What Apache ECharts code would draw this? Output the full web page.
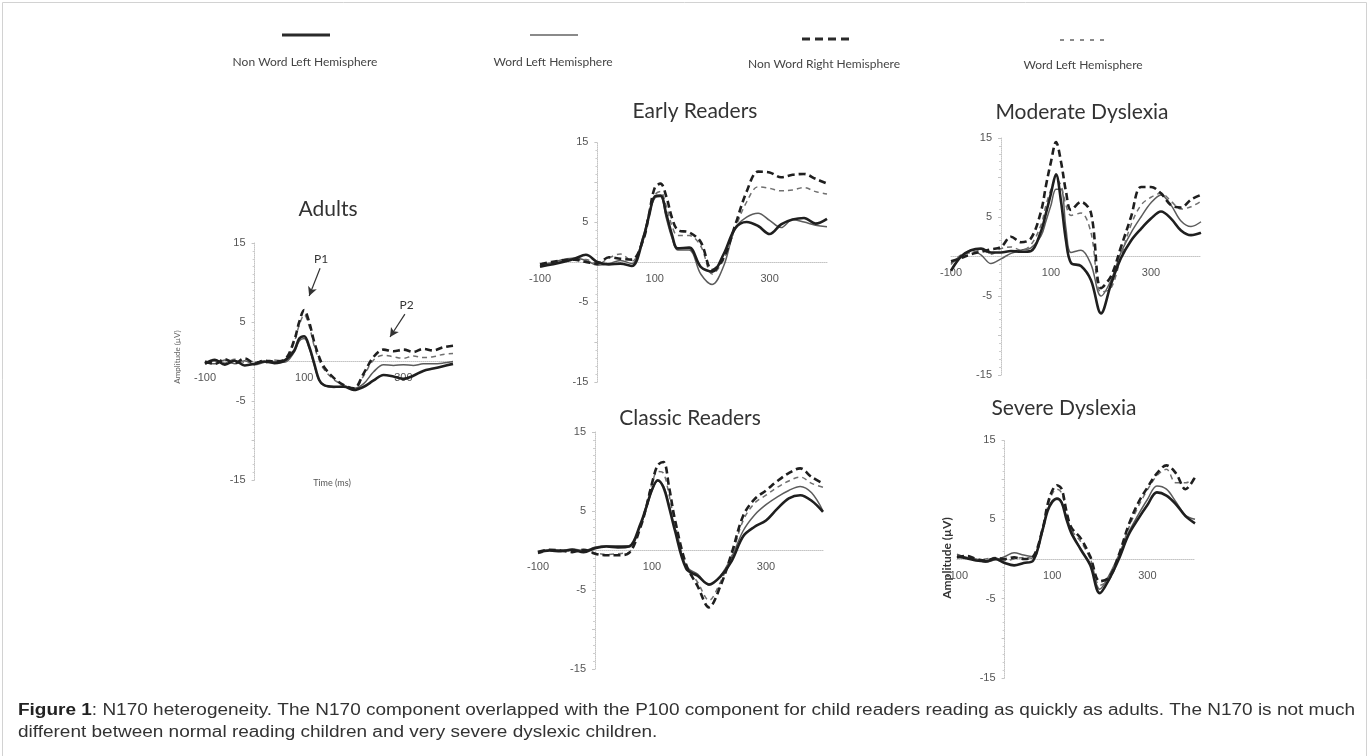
<!DOCTYPE html>
<html><head><meta charset="utf-8">
<script src="https://cdn.jsdelivr.net/npm/echarts@6/dist/echarts.min.js"></script>
<style>html,body{margin:0;padding:0;background:#fff}#c{width:1370px;height:756px}</style>
</head><body><div id="c"></div>
<script>
// ---------------- DATA ----------------
const times = [-100,-80,-60,-40,-20,0,20,40,60,80,90,100,110,120,130,140,160,180,200,220,240,260,280,300,320,340,360,380,400];
const legendLabels = ['Non Word Left Hemisphere','Word Left Hemisphere','Non Word Right Hemisphere','Word Left Hemisphere'];
const panelTitles = ['Adults','Early Readers','Moderate Dyslexia','Classic Readers','Severe Dyslexia'];
const xTickLabels = [-100,100,300];
const yTickLabels = [15,5,-5,-15];
const captionBold = 'Figure 1';
const captionLine1 = ': N170 heterogeneity. The N170 component overlapped with the P100 component for child readers reading as quickly as adults. The N170 is not much';
const captionLine2 = 'different between normal reading children and very severe dyslexic children.';
const adultsAxisName = 'Amplitude (\u00b5V)';
const adultsTimeName = 'Time (ms)';
const severeAxisName = 'Amplitude (\u00b5V)';
const annotations = [{name:'P1', from:[132,11.8], to:[110,8.3]},{name:'P2', from:[303,6.0], to:[273,3.1]}];

// Adults
const adultsNWL = [-0.3,0.2,-0.4,0.1,-0.5,-0.3,0.0,-0.2,0.1, 1.4,2.9,3.2,1.9,-0.2,-2.3,-3.0, -3.2,-3.2,-3.6,-3.2,-2.4,-1.7,-1.9,-2.2,-1.8,-1.2,-0.9,-0.6,-0.3];
const adultsWL  = [-0.1,-0.3,0.2,-0.3,0.1,-0.4,-0.1,0.0,-0.1, 1.2,2.6,2.9,1.7,-0.4,-2.4,-3.0, -3.3,-3.1,-3.4,-2.8,-1.3,-0.4,-0.5,-0.4,-0.5,-0.3,-0.3,-0.2,0.0];
const adultsNWR = [0.0,-0.3,0.3,-0.2,0.4,-0.2,0.1,0.0,0.2, 2.7,5.0,6.5,5.0,2.5,0.6,-0.7, -2.1,-3.0,-3.4,-1.5,0.6,1.5,1.3,1.5,1.2,1.6,1.4,1.8,2.0];
const adultsWR  = [-0.2,0.1,-0.2,0.3,-0.1,0.0,-0.2,0.2,0.0, 2.5,4.6,5.9,4.5,2.0,0.2,-1.0, -2.3,-3.0,-3.5,-1.8,0.2,0.8,0.6,0.4,0.7,0.5,0.6,0.9,1.0];
// Early readers
const earlyNWL = [-0.6,-0.3,0.0,0.4,0.9,0.0,-0.3,-0.2,-0.5, 3.0,5.8,8.2,8.3,6.0,3.4,1.7, 1.8,-0.6,-1.2,1.0,4.2,5.0,4.5,3.5,4.7,5.3,5.5,4.8,5.4];
const earlyWL  = [-0.4,-0.1,0.3,0.5,0.2,-0.4,-0.2,0.2,-0.2, 3.3,6.0,8.0,8.2,5.5,3.0,1.5, 1.5,-1.5,-2.8,-0.5,4.2,5.6,6.1,5.2,4.3,5.3,5.0,4.6,4.4];
const earlyNWR = [-0.3,0.0,0.2,0.3,0.0,-0.2,0.6,0.4,0.3, 2.8,6.0,9.3,9.8,8.2,5.5,4.0, 3.7,2.5,-1.0,0.5,4.6,8.8,11.3,11.2,10.6,10.9,11.0,10.4,9.8];
const earlyWR  = [-0.5,-0.2,0.1,0.2,0.3,-0.3,0.5,1.0,0.1, 3.0,6.0,8.4,8.8,7.0,4.5,3.3, 3.3,2.0,-1.5,0.3,4.2,7.5,9.4,9.2,8.9,9.0,9.3,8.8,8.5];
// Moderate dyslexia
const modNWL = [-1.8,0.0,0.8,1.0,0.5,0.5,0.7,0.6,0.7, 3.2,5.5,8.0,10.4,7.0,2.0,-0.8, -1.2,-3.0,-7.2,-3.5,-0.2,2.0,3.5,4.8,5.7,4.8,3.3,2.7,3.0];
const modWL  = [-0.8,0.0,0.8,0.2,-0.9,-0.3,0.4,0.8,1.1, 2.6,4.5,6.5,8.5,8.5,3.5,0.5, 0.8,-1.0,-5.0,-3.0,0.5,3.0,5.0,6.8,7.8,6.5,4.5,3.8,4.4];
const modNWR = [-0.6,-0.2,0.3,0.6,0.9,1.2,2.5,1.8,2.3, 5.7,9.0,12.0,14.5,12.0,8.2,5.9, 6.9,5.5,-4.0,-2.5,1.2,5.0,8.8,8.8,8.0,6.5,6.2,7.2,7.8];
const modWR  = [-1.0,0.2,0.5,0.8,0.3,1.0,1.2,0.8,1.5, 4.0,6.5,8.5,9.8,9.0,6.5,5.2, 5.5,3.0,-4.5,-4.0,0.0,4.0,6.5,7.5,8.0,7.0,6.0,6.3,7.0];
// Classic readers
const classicNWL = [-0.3,0.0,-0.1,0.1,-0.2,0.3,0.5,0.4,0.5, 3.4,5.5,7.7,8.9,8.0,5.5,2.6, -2.3,-3.2,-4.3,-3.3,-1.3,1.8,3.0,3.8,5.3,6.6,7.0,6.3,4.9];
const classicWL  = [-0.2,0.1,0.0,0.2,0.0,0.4,0.6,0.6,0.6, 3.2,5.3,7.6,8.8,8.2,5.8,2.8, -2.0,-3.0,-4.4,-3.2,-0.8,2.5,4.5,5.8,6.8,7.6,8.1,7.3,5.0];
const classicNWR = [-0.2,0.1,0.0,-0.2,0.1,-0.4,-0.6,-0.6,-0.3, 3.0,5.5,8.5,10.8,11.2,8.0,4.0, -1.8,-4.5,-7.2,-4.5,-0.3,4.4,6.5,7.6,8.8,9.8,10.4,9.3,8.5];
const classicWR  = [-0.4,0.0,0.1,-0.1,0.0,-0.3,-0.5,-0.4,-0.2, 3.2,5.8,8.5,10.0,9.8,7.0,3.5, -2.0,-4.0,-6.3,-4.0,-0.6,3.8,6.0,7.0,8.0,8.8,9.3,8.5,8.0];
// Severe dyslexia
const sevNWL = [0.3,0.1,-0.2,-0.3,0.0,-0.5,-0.8,-0.5,-0.2, 3.7,6.0,7.2,7.6,7.1,5.0,3.3, 1.2,-0.8,-4.3,-2.5,0.0,3.0,5.0,6.8,8.4,8.0,6.9,5.4,4.5];
const sevWL  = [0.6,0.2,0.0,-0.4,-0.1,0.3,0.8,0.5,0.3, 3.9,6.2,7.3,7.7,7.2,5.2,3.5, 1.2,-0.6,-3.8,-2.0,0.5,3.3,5.5,7.5,9.2,8.8,7.2,5.5,5.0];
const sevNWR = [0.2,0.4,0.0,-0.2,0.1,0.0,0.2,0.0,0.3, 3.8,6.8,8.6,9.3,8.8,6.0,4.0, 2.6,0.3,-2.8,-2.3,0.5,4.2,7.0,9.0,10.8,11.8,10.8,8.8,10.3];
const sevWR  = [0.4,0.2,-0.1,0.0,0.2,-0.2,0.0,0.2,0.1, 3.8,6.5,8.2,8.8,8.3,5.8,3.7, 2.2,0.0,-3.3,-2.6,0.2,3.8,6.5,8.7,10.5,11.3,9.6,9.6,10.2];

// ---------------- LAYOUT / STYLE ----------------
const panelData = [
  [adultsNWL, adultsWL, adultsNWR, adultsWR],
  [earlyNWL, earlyWL, earlyNWR, earlyWR],
  [modNWL, modWL, modNWR, modWR],
  [classicNWL, classicWL, classicNWR, classicWR],
  [sevNWL, sevWL, sevNWR, sevWR]
];
const X_MIN = -100, X_MAX = 400, Y_MIN = -15, Y_MAX = 15;
const layouts = [
  {left:205, top:243, width:248, height:237, tx:328,  ty:209},
  {left:540, top:142, width:287, height:240, tx:695,  ty:111},
  {left:951, top:138, width:250, height:237, tx:1082, ty:112},
  {left:538, top:432, width:285, height:237, tx:690,  ty:418},
  {left:957, top:440, width:238, height:238, tx:1064, ty:408}
];
const lineStyles = [
  {color:'#1f1f1f', width:2.6, type:'solid'},
  {color:'#5c5c5c', width:1.5, type:'solid'},
  {color:'#1f1f1f', width:2.6, type:[7,4]},
  {color:'#707070', width:1.5, type:[5,4]}
];
const legendPos = [
  {lx:282, ly:35, tx:305, ty:62},
  {lx:530, ly:35, tx:553, ty:62},
  {lx:802, ly:39, tx:824, ty:64},
  {lx:1060, ly:40, tx:1083, ty:65}
];
const legendLine = [
  {stroke:'#2a2a2a', lineWidth:3, lineDash:null},
  {stroke:'#8a8a8a', lineWidth:2, lineDash:null},
  {stroke:'#2a2a2a', lineWidth:3, lineDash:[8,5]},
  {stroke:'#8a8a8a', lineWidth:2, lineDash:[4,6]}
];
const axisFont = 'Liberation Sans';
const titleFont = 'Lato';

const grids=[], xAxes=[], yAxes=[], series=[];
layouts.forEach((L,i)=>{
  grids.push({left:L.left, top:L.top, width:L.width, height:L.height, containLabel:false});
  // move axes from the grid edge to the zero lines
  const yOff = -L.width * (0 - X_MIN) / (X_MAX - X_MIN);
  const xOff = -L.height * (0 - Y_MIN) / (Y_MAX - Y_MIN);
  xAxes.push({type:'value', gridIndex:i, min:X_MIN, max:X_MAX, interval:100, position:'bottom', offset:xOff,
    axisLine:{show:true, onZero:false, lineStyle:{color:'#c4c4c4', type:'dotted', width:1}},
    axisTick:{show:false}, splitLine:{show:false},
    axisLabel:{formatter:v=>xTickLabels.includes(v)?String(v):'', color:'#555', fontSize:11, fontFamily:axisFont, margin:11}
  });
  yAxes.push({type:'value', gridIndex:i, min:Y_MIN, max:Y_MAX, interval:5, position:'left', offset:yOff,
    axisLine:{show:true, onZero:false, lineStyle:{color:'#c4c4c4', type:'dotted', width:1}},
    axisTick:{show:true, length:3, lineStyle:{color:'#c4c4c4'}},
    minorTick:{show:true, splitNumber:5, length:2, lineStyle:{color:'#cfcfcf'}},
    splitLine:{show:false},
    axisLabel:{formatter:v=>yTickLabels.includes(v)?String(v):'', color:'#555', fontSize:11, fontFamily:axisFont, margin:9}
  });
  panelData[i].forEach((arr,k)=>{
    const s = {type:'line', name:legendLabels[k], xAxisIndex:i, yAxisIndex:i,
      data: times.map((t,j)=>[t, arr[j]]), showSymbol:false, symbol:'none', smooth:0.35,
      lineStyle:Object.assign({}, lineStyles[k]), z: 3 + (k%2===0?1:0), silent:true};
    if(i===0 && k===2){
      s.markLine = {silent:true, symbol:['none','arrow'], symbolSize:[7,9], animation:false,
        lineStyle:{color:'#333', width:1.2, type:'solid'},
        label:{show:true, position:'start', formatter:p=>p.name, color:'#333', fontSize:12, fontFamily:titleFont, distance:3},
        data: annotations.map(a=>[{name:a.name, coord:a.from},{coord:a.to}])
      };
    }
    series.push(s);
  });
});

const graphics = [];
graphics.push({type:'rect', shape:{x:2.5, y:2.5, width:1364, height:770}, style:{fill:null, stroke:'#d2d2d2', lineWidth:1}, silent:true});
layouts.forEach((L,i)=>{
  graphics.push({type:'text', x:L.tx, y:L.ty, style:{text:panelTitles[i], font:'21px '+titleFont, fill:'#333', textAlign:'center', textVerticalAlign:'middle'}});
});
legendLabels.forEach((lab,i)=>{
  const P = legendPos[i], S = legendLine[i];
  graphics.push({type:'line', shape:{x1:P.lx, y1:P.ly, x2:P.lx+48, y2:P.ly}, style:{stroke:S.stroke, lineWidth:S.lineWidth, lineDash:S.lineDash}});
  graphics.push({type:'text', x:P.tx, y:P.ty, style:{text:lab, font:'12px '+titleFont, fill:'#444', textAlign:'center', textVerticalAlign:'middle'}});
});
graphics.push({type:'text', x:177, y:357, rotation:Math.PI/2, style:{text:adultsAxisName, font:'8px '+titleFont, fill:'#666', textAlign:'center', textVerticalAlign:'middle'}});
graphics.push({type:'text', x:332, y:483, style:{text:adultsTimeName, font:'9px '+titleFont, fill:'#555', textAlign:'center', textVerticalAlign:'middle'}});
graphics.push({type:'text', x:947, y:558, rotation:Math.PI/2, style:{text:severeAxisName, font:'bold 12px '+titleFont, fill:'#333', textAlign:'center', textVerticalAlign:'middle'}});

// caption, stretched horizontally to the reference width
const capFont = 'Liberation Sans', capSize = 16;
const mctx = document.createElement('canvas').getContext('2d');
mctx.font = 'bold '+capSize+'px "'+capFont+'"';
const wb = mctx.measureText(captionBold).width;
mctx.font = capSize+'px "'+capFont+'"';
const wr = mctx.measureText(captionLine1).width;
const capScale = (1355-18)/(wb+wr);
graphics.push({type:'text', x:18, y:711, scaleX:capScale, style:{
  text:'{b|'+captionBold+'}'+captionLine1, font:capSize+'px '+capFont, fill:'#333', textAlign:'left', textVerticalAlign:'middle',
  rich:{b:{fontWeight:'bold', fontSize:capSize, fontFamily:capFont, fill:'#222'}}}});
graphics.push({type:'text', x:18, y:733, scaleX:capScale, style:{
  text:captionLine2, font:capSize+'px '+capFont, fill:'#333', textAlign:'left', textVerticalAlign:'middle'}});

const chart = echarts.init(document.getElementById('c'));
chart.setOption({
  animation:false,
  backgroundColor:'#ffffff',
  grid:grids, xAxis:xAxes, yAxis:yAxes, series:series,
  graphic:{elements:graphics}
});
</script>
</body></html>
